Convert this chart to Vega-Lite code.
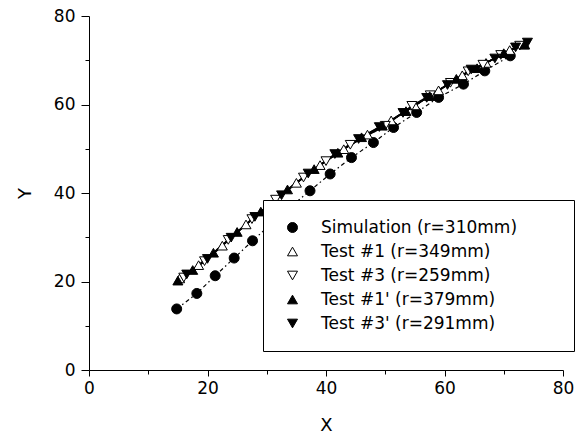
{
  "$schema": "https://vega.github.io/schema/vega-lite/v6.json",
  "width": 474,
  "height": 354,
  "autosize": {"type": "none"},
  "padding": {"left": 89, "top": 16, "right": 24, "bottom": 66},
  "background": "white",
  "config": {"view": {"stroke": null}, "font": "DejaVu Sans"},
  "data": {
    "values": [
      {"series": "Simulation (r=310mm)", "x": 14.8, "y": 13.8},
      {"series": "Simulation (r=310mm)", "x": 18.2, "y": 17.3},
      {"series": "Simulation (r=310mm)", "x": 21.3, "y": 21.3},
      {"series": "Simulation (r=310mm)", "x": 24.5, "y": 25.3},
      {"series": "Simulation (r=310mm)", "x": 27.6, "y": 29.2},
      {"series": "Simulation (r=310mm)", "x": 30.8, "y": 33.1},
      {"series": "Simulation (r=310mm)", "x": 34.0, "y": 36.9},
      {"series": "Simulation (r=310mm)", "x": 37.3, "y": 40.5},
      {"series": "Simulation (r=310mm)", "x": 40.7, "y": 44.3},
      {"series": "Simulation (r=310mm)", "x": 44.3, "y": 48.0},
      {"series": "Simulation (r=310mm)", "x": 48.0, "y": 51.4},
      {"series": "Simulation (r=310mm)", "x": 51.4, "y": 54.8},
      {"series": "Simulation (r=310mm)", "x": 55.3, "y": 58.2},
      {"series": "Simulation (r=310mm)", "x": 59.0, "y": 61.6},
      {"series": "Simulation (r=310mm)", "x": 63.2, "y": 64.6},
      {"series": "Simulation (r=310mm)", "x": 66.8, "y": 67.6},
      {"series": "Simulation (r=310mm)", "x": 71.1, "y": 71.0},

      {"series": "Test #1 (r=349mm)", "x": 15.3, "y": 20.7},
      {"series": "Test #1 (r=349mm)", "x": 18.5, "y": 23.7},
      {"series": "Test #1 (r=349mm)", "x": 22.5, "y": 28.1},
      {"series": "Test #1 (r=349mm)", "x": 26.5, "y": 32.9},
      {"series": "Test #1 (r=349mm)", "x": 30.5, "y": 37.4},
      {"series": "Test #1 (r=349mm)", "x": 35.0, "y": 42.3},
      {"series": "Test #1 (r=349mm)", "x": 39.0, "y": 46.3},
      {"series": "Test #1 (r=349mm)", "x": 43.0, "y": 49.9},
      {"series": "Test #1 (r=349mm)", "x": 47.0, "y": 53.2},
      {"series": "Test #1 (r=349mm)", "x": 51.0, "y": 56.4},
      {"series": "Test #1 (r=349mm)", "x": 55.0, "y": 59.8},
      {"series": "Test #1 (r=349mm)", "x": 59.0, "y": 63.2},
      {"series": "Test #1 (r=349mm)", "x": 63.0, "y": 66.6},
      {"series": "Test #1 (r=349mm)", "x": 67.0, "y": 69.4},
      {"series": "Test #1 (r=349mm)", "x": 71.0, "y": 72.3},
      {"series": "Test #1 (r=349mm)", "x": 73.5, "y": 73.6},

      {"series": "Test #3 (r=259mm)", "x": 16.0, "y": 20.9},
      {"series": "Test #3 (r=259mm)", "x": 19.5, "y": 24.6},
      {"series": "Test #3 (r=259mm)", "x": 23.5, "y": 29.4},
      {"series": "Test #3 (r=259mm)", "x": 27.5, "y": 34.1},
      {"series": "Test #3 (r=259mm)", "x": 31.5, "y": 38.5},
      {"series": "Test #3 (r=259mm)", "x": 36.2, "y": 43.5},
      {"series": "Test #3 (r=259mm)", "x": 40.0, "y": 47.2},
      {"series": "Test #3 (r=259mm)", "x": 44.1, "y": 50.9},
      {"series": "Test #3 (r=259mm)", "x": 50.0, "y": 55.2},
      {"series": "Test #3 (r=259mm)", "x": 54.5, "y": 59.7},
      {"series": "Test #3 (r=259mm)", "x": 57.6, "y": 62.1},
      {"series": "Test #3 (r=259mm)", "x": 61.0, "y": 64.9},
      {"series": "Test #3 (r=259mm)", "x": 64.0, "y": 67.5},
      {"series": "Test #3 (r=259mm)", "x": 66.5, "y": 69.0},
      {"series": "Test #3 (r=259mm)", "x": 69.5, "y": 71.2},
      {"series": "Test #3 (r=259mm)", "x": 72.7, "y": 73.3},

      {"series": "Test #1' (r=379mm)", "x": 15.0, "y": 20.2},
      {"series": "Test #1' (r=379mm)", "x": 17.5, "y": 22.6},
      {"series": "Test #1' (r=379mm)", "x": 21.0, "y": 26.5},
      {"series": "Test #1' (r=379mm)", "x": 25.0, "y": 31.2},
      {"series": "Test #1' (r=379mm)", "x": 29.0, "y": 35.8},
      {"series": "Test #1' (r=379mm)", "x": 33.5, "y": 40.8},
      {"series": "Test #1' (r=379mm)", "x": 38.0, "y": 45.4},
      {"series": "Test #1' (r=379mm)", "x": 42.0, "y": 49.1},
      {"series": "Test #1' (r=379mm)", "x": 46.0, "y": 52.6},
      {"series": "Test #1' (r=379mm)", "x": 49.5, "y": 55.2},
      {"series": "Test #1' (r=379mm)", "x": 53.5, "y": 58.5},
      {"series": "Test #1' (r=379mm)", "x": 57.5, "y": 61.9},
      {"series": "Test #1' (r=379mm)", "x": 62.0, "y": 65.8},
      {"series": "Test #1' (r=379mm)", "x": 65.5, "y": 68.2},
      {"series": "Test #1' (r=379mm)", "x": 70.0, "y": 71.6},
      {"series": "Test #1' (r=379mm)", "x": 73.5, "y": 73.5},

      {"series": "Test #3' (r=291mm)", "x": 16.5, "y": 21.6},
      {"series": "Test #3' (r=291mm)", "x": 20.0, "y": 25.1},
      {"series": "Test #3' (r=291mm)", "x": 24.0, "y": 29.9},
      {"series": "Test #3' (r=291mm)", "x": 28.0, "y": 34.6},
      {"series": "Test #3' (r=291mm)", "x": 32.5, "y": 39.5},
      {"series": "Test #3' (r=291mm)", "x": 37.0, "y": 44.4},
      {"series": "Test #3' (r=291mm)", "x": 41.5, "y": 48.8},
      {"series": "Test #3' (r=291mm)", "x": 45.5, "y": 52.2},
      {"series": "Test #3' (r=291mm)", "x": 49.0, "y": 54.9},
      {"series": "Test #3' (r=291mm)", "x": 53.0, "y": 58.1},
      {"series": "Test #3' (r=291mm)", "x": 57.0, "y": 61.5},
      {"series": "Test #3' (r=291mm)", "x": 60.5, "y": 64.4},
      {"series": "Test #3' (r=291mm)", "x": 64.5, "y": 67.9},
      {"series": "Test #3' (r=291mm)", "x": 68.5, "y": 70.4},
      {"series": "Test #3' (r=291mm)", "x": 72.0, "y": 72.9},
      {"series": "Test #3' (r=291mm)", "x": 74.0, "y": 74.0}
    ]
  },
  "encoding": {
    "x": {
      "field": "x", "type": "quantitative",
      "scale": {"domain": [0, 80], "nice": false, "zero": false},
      "axis": {
        "values": [0, 10, 20, 30, 40, 50, 60, 70, 80],
        "labelExpr": "datum.value % 20 === 0 ? datum.label : ''",
        "grid": false, "labelFlush": false, "labelOverlap": false,
        "domainColor": "black", "tickColor": "black",
        "tickSize": {"condition": {"test": "datum.value % 20 === 0", "value": 6}, "value": 4},
        "labelFont": "DejaVu Sans", "labelFontSize": 17, "labelColor": "black", "labelPadding": 4,
        "title": "X", "titleFont": "DejaVu Sans", "titleFontSize": 18, "titleFontWeight": "normal",
        "titleColor": "black", "titleX": 237, "titleY": 55, "titleBaseline": "middle"
      }
    },
    "y": {
      "field": "y", "type": "quantitative",
      "scale": {"domain": [0, 80], "nice": false, "zero": false},
      "axis": {
        "values": [0, 10, 20, 30, 40, 50, 60, 70, 80],
        "labelExpr": "datum.value % 20 === 0 ? datum.label : ''",
        "grid": false, "labelFlush": false, "labelOverlap": false,
        "domainColor": "black", "tickColor": "black",
        "tickSize": {"condition": {"test": "datum.value % 20 === 0", "value": 8}, "value": 4},
        "labelFont": "DejaVu Sans", "labelFontSize": 17, "labelColor": "black", "labelPadding": 6,
        "title": "Y", "titleFont": "DejaVu Sans", "titleFontSize": 18, "titleFontWeight": "normal",
        "titleColor": "black", "titleX": -64, "titleY": 177, "titleBaseline": "middle"
      }
    }
  },
  "layer": [
    {
      "mark": {"type": "line", "color": "black"},
      "encoding": {
        "detail": {"field": "series", "type": "nominal"},
        "strokeDash": {
          "condition": {"test": "datum.series === 'Simulation (r=310mm)'", "value": [4, 3, 1.5, 3]},
          "value": [1, 0]
        },
        "strokeWidth": {
          "condition": {"test": "datum.series === 'Simulation (r=310mm)'", "value": 1.2},
          "value": 1.6
        }
      }
    },
    {
      "mark": {"type": "point", "filled": true, "stroke": "black", "strokeWidth": 1, "size": 100, "opacity": 1},
      "encoding": {
        "shape": {
          "field": "series", "type": "nominal",
          "scale": {
            "domain": ["Simulation (r=310mm)", "Test #1 (r=349mm)", "Test #3 (r=259mm)", "Test #1' (r=379mm)", "Test #3' (r=291mm)"],
            "range": ["circle", "triangle-up", "triangle-down", "triangle-up", "triangle-down"]
          },
          "legend": {
            "orient": "none", "legendX": 174, "legendY": 184,
            "title": " ", "titleOrient": "right", "titlePadding": 38,
            "strokeColor": "black", "fillColor": "white", "padding": 19,
            "labelFont": "DejaVu Sans", "labelFontSize": 17, "labelColor": "black",
            "labelOffset": 20, "symbolOffset": 2, "symbolSize": 100,
            "symbolStrokeColor": "black", "symbolStrokeWidth": 1, "symbolOpacity": 1,
            "rowPadding": 6, "labelLimit": 400, "cornerRadius": 0,
            "encode": {"symbols": {"update": {"stroke": {"value": "black"}, "strokeWidth": {"value": 1}, "opacity": {"value": 1}}}}
          }
        },
        "fill": {
          "field": "series", "type": "nominal",
          "scale": {
            "domain": ["Simulation (r=310mm)", "Test #1 (r=349mm)", "Test #3 (r=259mm)", "Test #1' (r=379mm)", "Test #3' (r=291mm)"],
            "range": ["black", "white", "white", "black", "black"]
          },
          "legend": {
            "orient": "none", "legendX": 174, "legendY": 184,
            "title": " ", "titleOrient": "right", "titlePadding": 38,
            "strokeColor": "black", "fillColor": "white", "padding": 19,
            "labelFont": "DejaVu Sans", "labelFontSize": 17, "labelColor": "black",
            "labelOffset": 20, "symbolOffset": 2, "symbolSize": 100,
            "symbolStrokeColor": "black", "symbolStrokeWidth": 1, "symbolOpacity": 1,
            "rowPadding": 6, "labelLimit": 400, "cornerRadius": 0,
            "encode": {"symbols": {"update": {"stroke": {"value": "black"}, "strokeWidth": {"value": 1}, "opacity": {"value": 1}}}}
          }
        }
      }
    }
  ]
}
